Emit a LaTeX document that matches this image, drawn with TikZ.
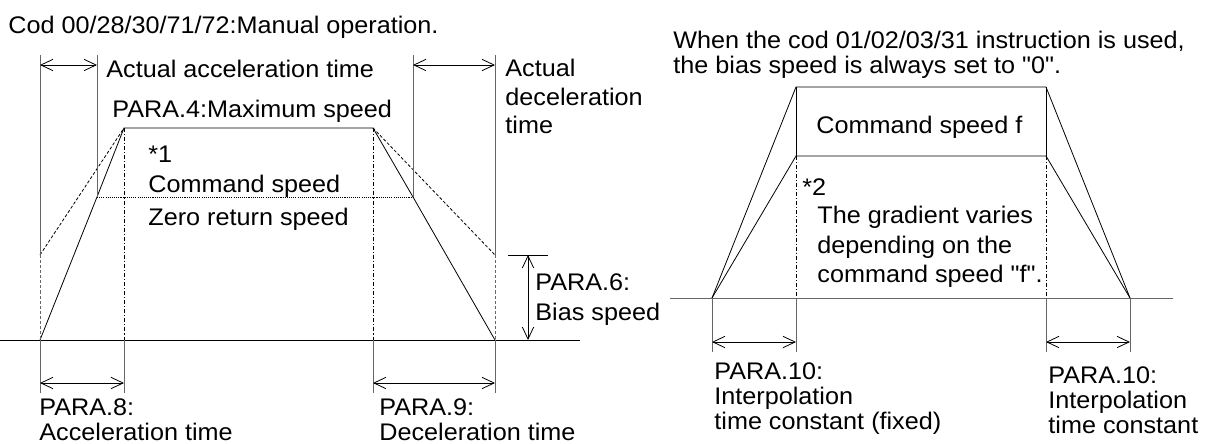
\documentclass[tikz,border=0pt]{standalone}
\usepackage{fontspec}
\setmainfont{Liberation Sans}[FakeStretch=1.05,Ligatures=TeXOff]
\usetikzlibrary{arrows.meta}

\begin{document}
\begin{tikzpicture}[x=0.75pt,y=-0.75pt,line width=0.6pt,
  >={Straight Barb[length=9pt,width=8.5pt]},
  font={\fontsize{18pt}{18.75pt}\selectfont},
  lbl/.style={inner sep=0pt,anchor=base west},
  blk/.style={inner sep=0pt,anchor=north west,align=left},
  guide/.style={black!60},
  bias/.style={dash pattern=on 2.3pt off 1.5pt},
  ctr/.style={dash pattern=on 3pt off 1.5pt on 0.8pt off 1.5pt},
  zret/.style={dash pattern=on 0.8pt off 0.8pt}]
\useasboundingbox (0,0) rectangle (1212,443);
\coordinate (a0) at (40,340);
\coordinate (a1) at (97,197);
\coordinate (a2) at (124,128);
\coordinate (a3) at (373,128);
\coordinate (a4) at (413,197);
\coordinate (a5) at (495,340);
\coordinate (b0) at (40,255);
\coordinate (b5) at (495,255);
\draw (0,340) -- (580,340);
\draw (a0) -- (a1) -- (a2) -- (a3) -- (a4) -- (a5);
\draw[bias] (b0) -- (a2) (a3) -- (b5);
\draw[zret] (a1) -- (a4);
\draw[guide] (40,55) -- (b0) (97,55) -- (a1) (413,55) -- (a4) (495,55) -- (b5);
\draw[guide,bias] (b0) -- (a0) (b5) -- (a5);
\draw[ctr] (a2) -- (124,340) (a3) -- (373,340);
\draw[guide] (a0) -- (40,393) (124,340) -- (124,393) (373,340) -- (373,393) (a5) -- (495,393);
\draw[<->] (40,65) -- (97,65);
\draw[<->] (413,65) -- (495,65);
\draw[<->] (40,383) -- (124,383);
\draw[<->] (373,383) -- (495,383);
\draw (508,255) -- (548,255);
\draw[<->] (528,255) -- (528,340);
\node[lbl] (title) at (8,33) {Cod 00/28/30/71/72:Manual operation.};
\node[lbl] (accl) at (106,77) {Actual acceleration time};
\node[lbl] (para4) at (112,117) {PARA.4:Maximum speed};
\node[lbl] (star1) at (148,162) {*1};
\node[lbl] (cmdspd) at (148,192) {Command speed};
\node[lbl] (zerospd) at (148,225) {Zero return speed};
\node[blk] (decl) at (505,59) {Actual\\[2.6pt]deceleration\\[2.6pt]time};
\node[blk] (para6) at (535,273) {PARA.6:\\[3.8pt]Bias speed};
\node[blk] (para8) at (39,398) {PARA.8:\\Acceleration time};
\node[blk] (para9) at (379,398) {PARA.9:\\Deceleration time};
\coordinate (c0) at (712,298);
\coordinate (c1) at (796,87);
\coordinate (c2) at (1046,87);
\coordinate (c3) at (1130,298);
\coordinate (d1) at (796,156);
\coordinate (d2) at (1046,156);
\draw[guide] (670,298) -- (1173,298);
\draw (c0) -- (c1) -- (c2) -- (c3);
\draw (c0) -- (d1) -- (d2) -- (c3);
\draw (c1) -- (d1) (c2) -- (d2);
\draw[ctr] (d1) -- (796,298) (d2) -- (1046,298);
\draw[guide] (c0) -- (712,352) (796,298) -- (796,352) (1046,298) -- (1046,352) (c3) -- (1130,352);
\draw[<->] (712,342) -- (796,342);
\draw[<->] (1046,342) -- (1130,342);
\node[blk] (note) at (673,31) {When the cod 01/02/03/31 instruction is used,\\the bias speed is always set to "0".};
\node[lbl] (cmdf) at (816,133) {Command speed f};
\node[lbl] (star2) at (802,195) {*2};
\node[blk] (grad) at (817,206) {The gradient varies\\[3.4pt]depending on the\\[3.4pt]command speed "f".};
\node[blk] (para10a) at (714,362) {PARA.10:\\Interpolation\\time constant (fixed)};
\node[blk] (para10b) at (1048,366) {PARA.10:\\Interpolation\\time constant};
\end{tikzpicture}
\end{document}
